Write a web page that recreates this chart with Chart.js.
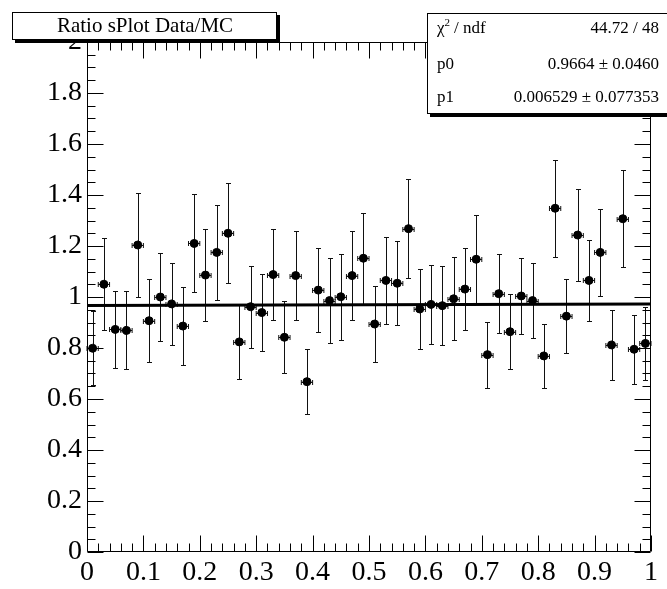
<!DOCTYPE html>
<html lang="en">
<head>
    <meta charset="UTF-8">
    <title>Ratio sPlot Data/MC</title>
    <script src="https://cdn.jsdelivr.net/npm/chart.js"></script>
    <style>
        html, body { margin: 0; padding: 0; background: #fff; }
        #wrap { width: 667px; height: 589px; position: relative; }
    </style>
</head>
<body>
<div id="wrap"><canvas id="myChart"></canvas></div>
<script>
    // histogram binning
    const nBins = 50;
    const xLow = 0;
    const xHigh = 1;

    // ratio per bin and its error
    const ratioValues = [
        0.799, 1.050, 0.873, 0.869, 1.204, 0.907, 1.000, 0.973, 0.886, 1.210,
        1.086, 1.175, 1.250, 0.824, 0.962, 0.939, 1.088, 0.842, 1.084, 0.668,
        1.027, 0.986, 1.001, 1.084, 1.152, 0.894, 1.065, 1.054, 1.268, 0.953,
        0.971, 0.966, 0.993, 1.031, 1.148, 0.774, 1.013, 0.864, 1.004, 0.986,
        0.769, 1.348, 0.925, 1.243, 1.065, 1.175, 0.812, 1.307, 0.795, 0.818
    ];
    const ratioErrors = [
        0.146, 0.180, 0.152, 0.153, 0.205, 0.162, 0.173, 0.161, 0.154, 0.192,
        0.179, 0.186, 0.197, 0.146, 0.161, 0.152, 0.177, 0.141, 0.176, 0.128,
        0.164, 0.167, 0.169, 0.173, 0.179, 0.149, 0.172, 0.165, 0.194, 0.156,
        0.155, 0.155, 0.162, 0.161, 0.172, 0.129, 0.156, 0.146, 0.149, 0.148,
        0.126, 0.190, 0.144, 0.179, 0.160, 0.170, 0.136, 0.190, 0.135, 0.142
    ];

    // linear fit p0 + p1*x
    const fitP0 = 0.9664;
    const fitP1 = 0.006529;

    // stats box text
    const statsNames = ['/ ndf', 'p0', 'p1'];
    const statsValues = ['44.72 / 48', '0.9664 \u00b1 0.0460', '0.006529 \u00b1 0.077353'];
    const titleText = 'Ratio sPlot Data/MC';

    const serif = "'Liberation Serif', 'DejaVu Serif', serif";
    const binWidth = (xHigh - xLow) / nBins;

    var points = [];
    for (var i = 0; i < nBins; i++) {
        points.push({ x: xLow + (i + 0.5) * binWidth, y: ratioValues[i], err: ratioErrors[i] });
    }
    var fitLine = [
        { x: xLow, y: fitP0 + fitP1 * xLow },
        { x: xHigh, y: fitP0 + fitP1 * xHigh }
    ];

    // error bars (vertical = error, horizontal = half bin width)
    const errorBars = {
        id: 'errorBars',
        beforeDatasetsDraw(chart) {
            const ctx = chart.ctx;
            const x = chart.scales.x, y = chart.scales.y;
            ctx.save();
            ctx.strokeStyle = '#111';
            ctx.lineWidth = 1;
            ctx.beginPath();
            points.forEach(function (p) {
                const px = Math.round(x.getPixelForValue(p.x)) + 0.5;
                const py = Math.round(y.getPixelForValue(p.y)) + 0.5;
                const top = Math.round(y.getPixelForValue(p.y + p.err)) + 0.5;
                const bot = Math.round(y.getPixelForValue(p.y - p.err)) + 0.5;
                const xl = x.getPixelForValue(p.x - binWidth / 2);
                const xr = x.getPixelForValue(p.x + binWidth / 2);
                ctx.moveTo(px, top); ctx.lineTo(px, bot);
                ctx.moveTo(px - 2.5, top); ctx.lineTo(px + 2.5, top);
                ctx.moveTo(px - 2.5, bot); ctx.lineTo(px + 2.5, bot);
                ctx.moveTo(xl, py); ctx.lineTo(xr, py);
                ctx.moveTo(xl, py - 2.5); ctx.lineTo(xl, py + 2.5);
                ctx.moveTo(xr, py - 2.5); ctx.lineTo(xr, py + 2.5);
            });
            ctx.stroke();
            ctx.restore();
        }
    };

    // ROOT style frame with inner ticks on all four sides
    const frameTicks = {
        id: 'frameTicks',
        afterDatasetsDraw(chart) {
            const ctx = chart.ctx;
            const a = chart.chartArea;
            const x = chart.scales.x, y = chart.scales.y;
            ctx.save();
            ctx.strokeStyle = '#000';
            ctx.lineWidth = 1;
            ctx.beginPath();
            const L = Math.round(a.left) + 0.5, R = Math.round(a.right) - 0.5;
            const T = Math.round(a.top) + 0.5, B = Math.round(a.bottom) - 0.5;
            ctx.rect(L, T, R - L, B - T);
            for (var i = 0; i <= 50; i++) {
                const px = Math.round(x.getPixelForValue(i * 0.02)) + 0.5;
                const len = (i % 5 === 0) ? 16 : 8;
                ctx.moveTo(px, B); ctx.lineTo(px, B - len);
                ctx.moveTo(px, T); ctx.lineTo(px, T + len);
            }
            for (var j = 0; j <= 40; j++) {
                const py = Math.round(y.getPixelForValue(j * 0.05)) + 0.5;
                const len = (j % 4 === 0) ? 16 : 8;
                ctx.moveTo(L, py); ctx.lineTo(L + len, py);
                ctx.moveTo(R, py); ctx.lineTo(R - len, py);
            }
            ctx.stroke();
            ctx.restore();
        }
    };

    // title box and stats box
    const boxes = {
        id: 'boxes',
        afterDraw(chart) {
            const ctx = chart.ctx;
            ctx.save();
            function box(l, t, r, b) {
                ctx.fillStyle = '#000';
                ctx.fillRect(l + 3, t + 3, r - l, b - t);
                ctx.fillStyle = '#fff';
                ctx.fillRect(l, t, r - l, b - t);
                ctx.strokeStyle = '#000';
                ctx.lineWidth = 1;
                ctx.strokeRect(l + 0.5, t + 0.5, r - l - 1, b - t - 1);
            }
            // title
            box(12, 12, 277, 40);
            ctx.fillStyle = '#000';
            ctx.font = '21px ' + serif;
            ctx.textAlign = 'center';
            ctx.textBaseline = 'middle';
            ctx.fillText(titleText, 145, 26);

            // stats (runs off the right edge of the canvas)
            box(427, 13, 670, 114);
            ctx.fillStyle = '#000';
            ctx.font = '17px ' + serif;
            ctx.textBaseline = 'middle';
            const rowsY = [29, 65, 98];
            for (var k = 0; k < 3; k++) {
                ctx.textAlign = 'left';
                var lx = 437;
                if (k === 0) {
                    ctx.fillText('\u03c7', lx, rowsY[k]);
                    lx += ctx.measureText('\u03c7').width;
                    ctx.font = '11px ' + serif;
                    ctx.fillText('2', lx, rowsY[k] - 6);
                    lx += ctx.measureText('2').width + 4;
                    ctx.font = '17px ' + serif;
                }
                ctx.fillText(statsNames[k], lx, rowsY[k]);
                ctx.textAlign = 'right';
                ctx.fillText(statsValues[k], 659, rowsY[k]);
            }
            ctx.restore();
        }
    };

    const ctx = document.querySelector('#myChart');
    const myChart = new Chart(ctx, {
        type: 'scatter',
        data: {
            datasets: [{
                label: 'ratio',
                data: points,
                backgroundColor: '#000',
                borderColor: '#000',
                pointRadius: 4,
                pointHoverRadius: 4,
                order: 1
            }, {
                type: 'line',
                label: 'fit',
                data: fitLine,
                borderColor: '#000',
                borderWidth: 3,
                pointRadius: 0,
                fill: false,
                order: 2
            }]
        },
        options: {
            responsive: true,
            maintainAspectRatio: false,
            animation: false,
            layout: { padding: { top: 42, right: 16, left: 0, bottom: 0 } },
            plugins: {
                legend: { display: false },
                tooltip: { enabled: false }
            },
            scales: {
                x: {
                    type: 'linear',
                    min: xLow,
                    max: xHigh,
                    grid: { display: false, drawTicks: false },
                    border: { display: false },
                    ticks: {
                        stepSize: 0.1,
                        padding: 4,
                        color: '#000',
                        font: { family: serif, size: 28 },
                        callback: function (v) { return String(+v.toFixed(1)); }
                    },
                    afterFit: function (scale) { scale.height = 37; }
                },
                y: {
                    min: 0,
                    max: 2,
                    grid: { display: false, drawTicks: false },
                    border: { display: false },
                    ticks: {
                        stepSize: 0.2,
                        padding: 5,
                        color: '#000',
                        font: { family: serif, size: 28 },
                        callback: function (v) { return String(+v.toFixed(1)); }
                    },
                    afterFit: function (scale) { scale.width = 87; }
                }
            }
        },
        plugins: [errorBars, frameTicks, boxes]
    });
</script>
</body>
</html>
